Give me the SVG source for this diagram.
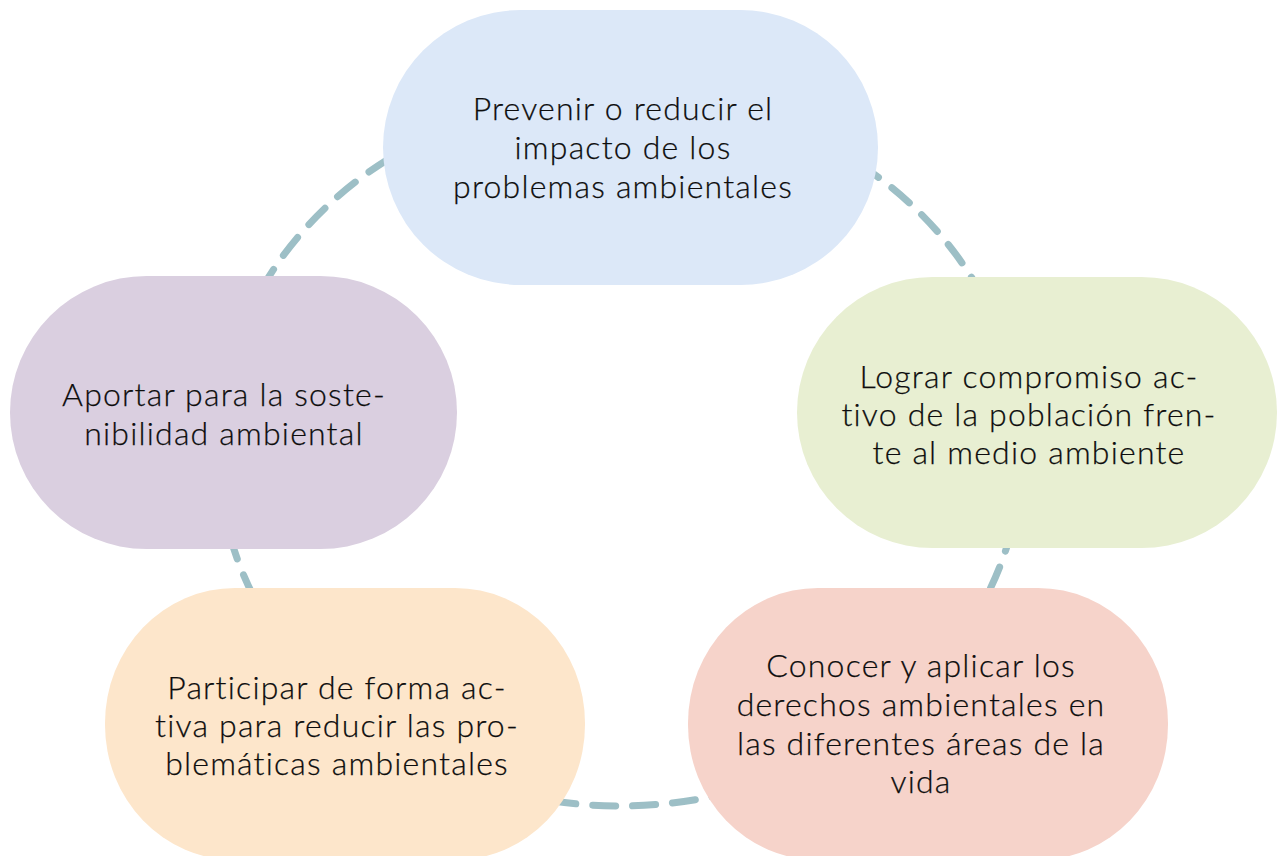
<svg xmlns="http://www.w3.org/2000/svg" width="1277" height="856" viewBox="0 0 1277 856">
<style>
.t{font-family:Lato,"Open Sans","Liberation Sans",sans-serif;font-size:32px;font-weight:300;letter-spacing:1.2px;fill:#0d0d0d;stroke:#0d0d0d;stroke-width:0.25px;text-anchor:middle}
.ring{fill:none;stroke:#9dbfc6;stroke-width:7;stroke-linecap:round;stroke-dasharray:23 17}
</style>
<rect width="1277" height="856" fill="#ffffff"/>
<g id="connectors">
<ellipse class="ring" cx="620" cy="450" rx="402" ry="356"/>
</g>
<g id="n1">
<rect x="383" y="10" width="495" height="275" rx="137.5" ry="137.5" fill="#dce8f8"/>
<text class="t" x="623" y="120">Prevenir o reducir el</text>
<text class="t" x="623" y="159">impacto de los</text>
<text class="t" x="623" y="198">problemas ambientales</text>
</g>
<g id="n2">
<rect x="797" y="277" width="480" height="271" rx="135.5" ry="135.5" fill="#e8efd2"/>
<text class="t" x="1029" y="388">Lograr compromiso ac-</text>
<text class="t" x="1029" y="426">tivo de la población fren-</text>
<text class="t" x="1029" y="464">te al medio ambiente</text>
</g>
<g id="n3">
<rect x="688" y="588" width="480" height="272" rx="130" ry="135" fill="#f6d3ca"/>
<text class="t" x="921" y="677">Conocer y aplicar los</text>
<text class="t" x="921" y="716">derechos ambientales en</text>
<text class="t" x="921" y="755">las diferentes áreas de la</text>
<text class="t" x="921" y="793">vida</text>
</g>
<g id="n4">
<rect x="105" y="588" width="480" height="272" rx="130" ry="135" fill="#fde6cb"/>
<text class="t" x="337" y="699">Participar de forma ac-</text>
<text class="t" x="337" y="737">tiva para reducir las pro-</text>
<text class="t" x="337" y="775">blemáticas ambientales</text>
</g>
<g id="n5">
<rect x="10" y="276" width="447" height="273" rx="136.5" ry="136.5" fill="#dacfe0"/>
<text class="t" x="224" y="406">Aportar para la soste-</text>
<text class="t" x="224" y="445">nibilidad ambiental</text>
</g>
</svg>
